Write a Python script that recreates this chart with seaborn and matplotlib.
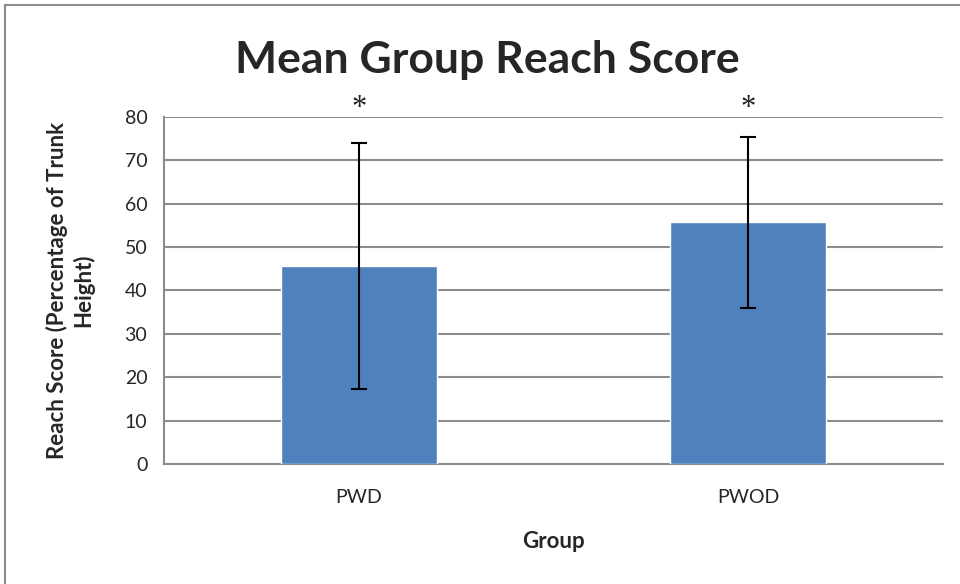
import numpy as np
import seaborn as sns
import matplotlib.pyplot as plt
import pandas as pd
from matplotlib.patches import Rectangle

# Chart data
groups = ['PWD', 'PWOD']
mean_reach = [45.7, 55.7]
reach_err = [28.3, 19.7]
star_height = [82, 82]

df = pd.DataFrame({'Group': groups, 'Reach': mean_reach})

sns.set_style('white')
plt.rcParams['font.family'] = ['Lato', 'DejaVu Sans']

fig = plt.figure(figsize=(9.6, 5.84), dpi=100)
ax = fig.add_axes([0.1708, 0.2055, 0.8115, 0.5942])

sns.barplot(data=df, x='Group', y='Reach', color='#4f81bd', saturation=1,
            width=0.4, errorbar=None, ax=ax, zorder=3)
ax.errorbar(range(len(groups)), mean_reach, yerr=reach_err, fmt='none',
            ecolor='black', elinewidth=1.5, capsize=6, capthick=1.5, zorder=4)

# significance stars
for i, h in enumerate(star_height):
    ax.text(i, h, '*', ha='center', va='center', fontsize=22,
            family='Liberation Serif', color='#222222')

ax.set_ylim(0, 80)
ax.set_xlim(-0.5, 1.5)
ax.set_yticks(np.arange(0, 81, 10))
ax.yaxis.grid(True, color='#8c8c8c', linewidth=1.5, zorder=0)
ax.set_axisbelow(True)

ax.set_xticks([-0.5, 0.5, 1.5], minor=True)
ax.tick_params(axis='x', which='minor', length=8, width=1.5, color='#8c8c8c')
ax.tick_params(axis='x', which='major', length=0, pad=18, labelsize=14)
ax.tick_params(axis='y', length=8, width=1.5, color='#8c8c8c', labelsize=14, pad=4)

for side in ['top', 'right']:
    ax.spines[side].set_visible(False)
for side in ['left', 'bottom']:
    ax.spines[side].set_color('#8c8c8c')
    ax.spines[side].set_linewidth(1.5)

ax.set_xlabel('Group', fontsize=16, fontweight='bold', labelpad=18)
ax.set_ylabel('Reach Score (Percentage of Trunk\nHeight)', fontsize=16,
              fontweight='bold', labelpad=22)
fig.suptitle('Mean Group Reach Score', fontsize=32, fontweight='bold', x=0.508, y=0.932)

fig.patches.append(Rectangle((5/960, -0.1), 1.2, 1 - 5/584 + 0.1, transform=fig.transFigure,
                             fill=False, edgecolor='#8c8c8c', linewidth=1.5))

fig.savefig('out.png', dpi=100)
